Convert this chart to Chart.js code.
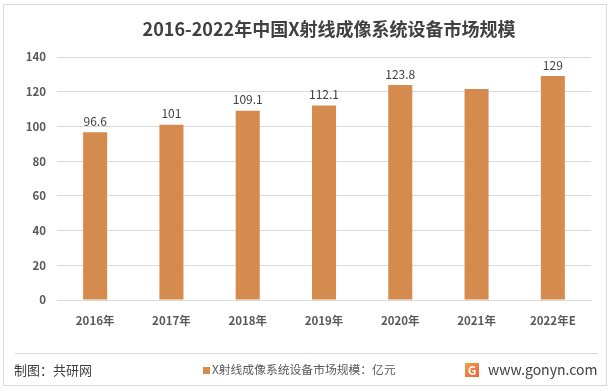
<!DOCTYPE html>
<html>
<head>
<meta charset="utf-8">
<script src="https://cdn.jsdelivr.net/npm/chart.js@4"></script>
<style>
  html, body { margin: 0; padding: 0; background: #fff; }
  #wrap { width: 612px; height: 391px; position: relative; }
</style>
</head>
<body>
<div id="wrap"><canvas id="c" width="612" height="391"></canvas></div>
<script>
/* ── Data ─────────────────────────────────────── */
const years    = ['2016年', '2017年', '2018年', '2019年', '2020年', '2021年', '2022年E'];
const sizes    = [96.6, 101, 109.1, 112.1, 123.8, 121.6, 129];
const labelled = [true, true, true, true, true, false, true];
const yTicks   = [0, 20, 40, 60, 80, 100, 120, 140];

const FONT = '"Noto Sans CJK SC", "Noto Sans", sans-serif';
const BAR  = '#D58B4D';
const SERIES = 'X射线成像系统设备市场规模：亿元';

/* ── Title, labels, footer, border ───────────── */
const decor = {
  id: 'decor',
  beforeDraw(chart) {
    const ctx = chart.ctx;
    ctx.save();
    ctx.fillStyle = '#fff';
    ctx.fillRect(0, 0, chart.width, chart.height);
    ctx.restore();
  },
  afterDraw(chart) {
    const ctx = chart.ctx;
    ctx.save();

    // outer frame
    ctx.strokeStyle = '#D9D9D9';
    ctx.lineWidth = 1;
    ctx.strokeRect(3.5, 4.5, 603, 381);

    // title
    ctx.fillStyle = '#404040';
    ctx.font = 'bold 18px ' + FONT;
    ctx.textAlign = 'center';
    ctx.textBaseline = 'middle';
    ctx.fillText('2016-2022年中国X射线成像系统设备市场规模', 329, 29);

    // value labels
    ctx.font = '12px ' + FONT;
    ctx.fillStyle = '#404040';
    ctx.textBaseline = 'bottom';
    chart.getDatasetMeta(0).data.forEach((bar, i) => {
      if (!labelled[i]) return;
      ctx.fillText(String(sizes[i]), bar.x, bar.y - 5);
    });

    // separator
    ctx.strokeStyle = '#D9D9D9';
    ctx.beginPath();
    ctx.moveTo(15, 353.5);
    ctx.lineTo(598, 353.5);
    ctx.stroke();

    // footer
    ctx.textBaseline = 'middle';
    ctx.textAlign = 'left';
    ctx.fillStyle = '#404040';
    ctx.font = '13px ' + FONT;
    ctx.fillText('制图：共研网', 14, 370);

    // legend
    ctx.fillStyle = chart.data.datasets[0].backgroundColor;
    ctx.fillRect(203, 367, 7, 7);
    ctx.fillStyle = '#595959';
    ctx.font = '11.8px ' + FONT;
    ctx.fillText(chart.data.datasets[0].label, 212, 370);

    // site mark
    const g = ctx.createLinearGradient(465, 363, 479, 377);
    g.addColorStop(0, '#F4A04A');
    g.addColorStop(1, '#E8603C');
    ctx.fillStyle = g;
    ctx.fillRect(465, 363, 14, 14);
    ctx.fillStyle = '#fff';
    ctx.font = 'bold 12px ' + FONT;
    ctx.textAlign = 'center';
    ctx.fillText('G', 472, 370);
    ctx.fillStyle = '#404040';
    ctx.font = '14px ' + FONT;
    ctx.textAlign = 'left';
    ctx.fillText('www.gonyn.com', 488, 370);

    ctx.restore();
  }
};

new Chart(document.getElementById('c'), {
  type: 'bar',
  data: {
    labels: years,
    datasets: [{
      label: SERIES,
      data: sizes,
      backgroundColor: BAR,
      borderWidth: 0,
      barPercentage: 0.63,
      categoryPercentage: 0.5,
    }]
  },
  options: {
    responsive: false,
    animation: false,
    layout: { padding: { left: 0, top: 57, right: 21, bottom: 0 } },
    scales: {
      y: {
        min: 0, max: 140,
        afterFit: s => { s.width = 57; },
        afterBuildTicks: s => { s.ticks = yTicks.map(v => ({ value: v })); },
        border: { display: false },
        grid: { color: '#D9D9D9', drawTicks: false },
        ticks: { color: '#595959', padding: 11, font: { size: 11.5, weight: 'bold', family: FONT } }
      },
      x: {
        afterFit: s => { s.height = 91; },
        border: { color: '#D9D9D9' },
        grid: { display: false },
        ticks: { color: '#595959', padding: 6, font: { size: 11.5, weight: 'bold', family: FONT } }
      }
    },
    plugins: {
      legend: { display: false },
      tooltip: { enabled: false }
    }
  },
  plugins: [decor]
});
</script>
</body>
</html>
